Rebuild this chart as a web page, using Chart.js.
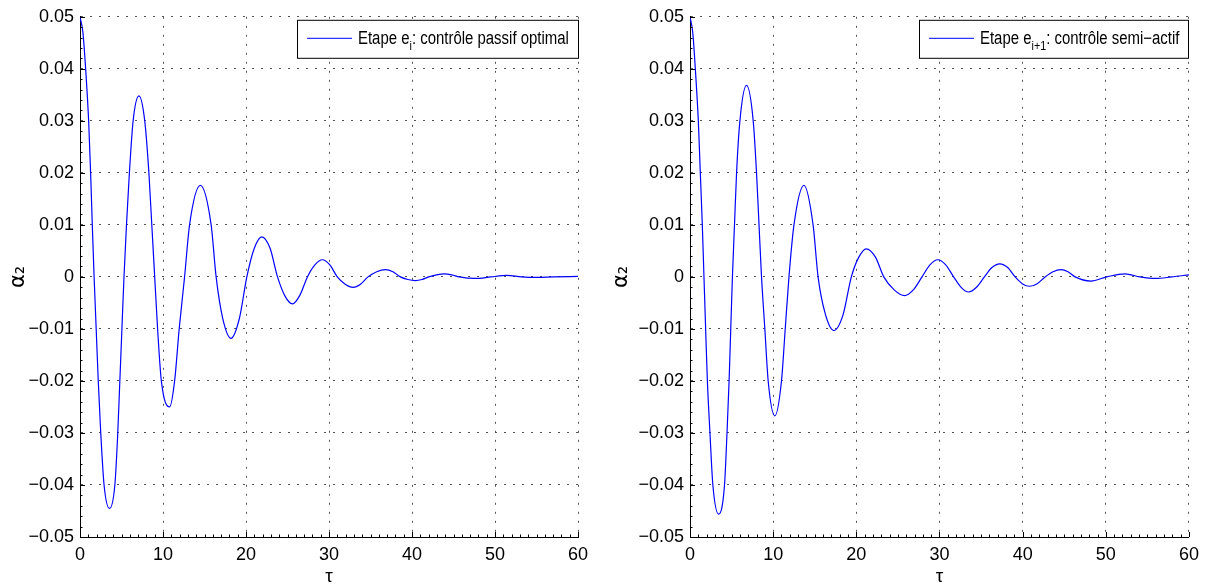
<!DOCTYPE html>
<html>
<head>
<meta charset="utf-8">
<script src="https://cdn.jsdelivr.net/npm/chart.js@4"></script>
<style>
  body { margin: 0; background: #fff; }
  .panel { position: absolute; top: 0; width: 603px; height: 586px; }
</style>
</head>
<body>
<div class="panel" style="left:0"><canvas id="chartPassif" width="603" height="586"></canvas></div>
<div class="panel" style="left:603px"><canvas id="chartSemi" width="603" height="586"></canvas></div>
<script>
// étape e_i : contrôle passif optimal
var tauPassif = [0, 0.35, 0.68, 1.04, 1.28, 1.48, 1.7, 1.95, 2.2, 2.5, 2.9, 3.55, 4.2, 4.55, 4.8, 5.05, 5.3, 5.6, 5.95, 6.4, 7.1,
  7.8, 8.3, 8.65, 9.0, 9.35, 9.8, 10.8, 11.4, 11.95, 12.6, 13.2, 14.5, 15.8, 16.4, 17.2, 18.2, 19.2, 20.1, 21.0, 21.9,
  22.9, 23.8, 24.7, 25.6, 26.5, 27.4, 28.3, 29.2, 30.1, 31.0, 31.95, 32.9, 33.8, 34.7, 35.75, 36.8, 37.7, 38.6, 39.5, 40.4,
  41.2, 42.0, 42.95, 43.9, 44.8, 45.7, 47.6, 49.5, 51.4, 53.2, 55.0, 57.0, 60];
var alphaPassif = [0.05, 0.047, 0.04, 0.03, 0.02, 0.01, 0, -0.01, -0.02, -0.03, -0.04, -0.0445, -0.04, -0.03, -0.02, -0.01, 0, 0.01, 0.02, 0.03, 0.0348,
  0.03, 0.02, 0.01, 0, -0.01, -0.02, -0.025, -0.02, -0.01, 0, 0.01, 0.0176, 0.01, 0, -0.008, -0.0118, -0.008, 0, 0.0055, 0.0077,
  0.0055, 0, -0.0037, -0.0052, -0.0035, 0, 0.0023, 0.0033, 0.0023, 0, -0.0014, -0.002, -0.0014, 0, 0.001, 0.0014, 0.001, 0, -0.0005, -0.0007,
  -0.0005, 0, 0.0004, 0.0006, 0.0004, 0, -0.0003, 0, 0.0003, 0, -0.0001, 0, 0.0001];

// étape e_i+1 : contrôle semi-actif
var tauSemi = [0, 0.33, 0.64, 1.0, 1.24, 1.48, 1.68, 1.88, 2.09, 2.4, 2.75, 3.45, 4.15, 4.45, 4.7, 4.9, 5.1, 5.35, 5.6, 6.0, 6.8,
  7.6, 8.0, 8.3, 8.6, 9.0, 9.4, 10.2, 11.0, 11.45, 11.9, 12.5, 13.7, 14.8, 15.4, 16.3, 17.3, 18.4, 19.4, 20.3, 21.2,
  22.3, 23.3, 24.55, 25.8, 26.85, 27.9, 28.85, 29.8, 30.75, 31.7, 32.6, 33.5, 34.45, 35.4, 36.3, 37.25, 38.2, 39.1, 39.95, 40.8,
  41.75, 42.7, 43.65, 44.6, 45.45, 46.3, 48.2, 50.1, 52.3, 54.1, 56.0, 57.9, 60];
var alphaSemi = [0.05, 0.047, 0.04, 0.03, 0.02, 0.01, 0, -0.01, -0.02, -0.03, -0.04, -0.0456, -0.04, -0.03, -0.02, -0.01, 0, 0.01, 0.02, 0.03, 0.0368,
  0.03, 0.02, 0.01, 0, -0.01, -0.02, -0.0267, -0.02, -0.01, 0, 0.01, 0.0176, 0.01, 0, -0.0073, -0.0103, -0.0073, 0, 0.0038, 0.0054,
  0.0038, 0, -0.0025, -0.0036, -0.0025, 0, 0.0023, 0.0033, 0.0023, 0, -0.002, -0.0029, -0.002, 0, 0.0018, 0.0025, 0.0018, 0, -0.0013, -0.0018,
  -0.0013, 0, 0.001, 0.0014, 0.001, 0, -0.0008, 0, 0.0006, 0, -0.0003, 0, 0.0004];

var xTicks = [0, 10, 20, 30, 40, 50, 60];
var xTickLabels = ['0', '10', '20', '30', '40', '50', '60'];
var yTicks = [-0.05, -0.04, -0.03, -0.02, -0.01, 0, 0.01, 0.02, 0.03, 0.04, 0.05];
var yTickLabels = ['\u22120.05', '\u22120.04', '\u22120.03', '\u22120.02', '\u22120.01', '0', '0.01', '0.02', '0.03', '0.04', '0.05'];

var FONT = '"Liberation Sans Narrow", "Liberation Sans", Arial, sans-serif';
Chart.defaults.font.family = FONT;
Chart.defaults.font.size = 18;
Chart.defaults.color = '#000';

// small inward ticks on the two axes, like the matlab look
var axisMarks = {
  id: 'axisMarks',
  afterDraw: function (chart) {
    var ctx = chart.ctx, xs = chart.scales.x, ys = chart.scales.y, a = chart.chartArea;
    ctx.save();
    ctx.strokeStyle = '#000';
    ctx.lineWidth = 1;
    ctx.beginPath();
    for (var v = 0; v <= 60; v++) {
      var px = Math.round(xs.getPixelForValue(v)) + 0.5;
      var len = v % 10 === 0 ? 5 : 2.5;
      ctx.moveTo(px, a.bottom);
      ctx.lineTo(px, a.bottom - len);
    }
    for (var k = -25; k <= 25; k++) {
      var py = Math.round(ys.getPixelForValue(k * 0.002)) + 0.5;
      var l = k % 5 === 0 ? 5 : 2.5;
      ctx.moveTo(a.left, py);
      ctx.lineTo(a.left + l, py);
    }
    ctx.stroke();
    ctx.restore();
  }
};

// boxed legend in the top right corner, label with a subscript, squeezed a bit
var curveLegend = {
  id: 'curveLegend',
  afterDraw: function (chart, args, opts) {
    var ctx = chart.ctx, a = chart.chartArea, sq = 0.83;
    ctx.save();
    ctx.font = '18px ' + FONT;
    var w1 = ctx.measureText(opts.head).width * sq;
    var w3 = ctx.measureText(opts.tail).width * sq;
    ctx.font = '13px ' + FONT;
    var w2 = ctx.measureText(opts.sub).width * sq;
    var boxW = Math.round(10 + 45 + 6 + w1 + w2 + w3 + 9);
    var right = a.right - opts.inset;
    var left = right - boxW;
    var top = a.top + 3;
    var h = 38;
    ctx.fillStyle = '#fff';
    ctx.fillRect(left, top, boxW, h);
    ctx.strokeStyle = '#000';
    ctx.lineWidth = 1;
    ctx.strokeRect(Math.round(left) + 0.5, top + 0.5, boxW, h);
    ctx.strokeStyle = opts.color;
    ctx.beginPath();
    ctx.moveTo(left + 10, top + 18.5);
    ctx.lineTo(left + 55, top + 18.5);
    ctx.stroke();
    ctx.fillStyle = '#000';
    ctx.textBaseline = 'alphabetic';
    var parts = [[opts.head, 18, 24, w1], [opts.sub, 13, 30, w2], [opts.tail, 18, 24, w3]];
    var tx = left + 61;
    parts.forEach(function (p) {
      ctx.save();
      ctx.translate(tx, top + p[2]);
      ctx.scale(sq, 1);
      ctx.font = p[1] + 'px ' + FONT;
      ctx.fillText(p[0], 0, 0);
      ctx.restore();
      tx += p[3];
    });
    ctx.restore();
  }
};

function drawPanel(id, tau, alpha, axisWidth, padRight, legend) {
  var points = tau.map(function (t, i) { return { x: t, y: alpha[i] }; });
  return new Chart(document.getElementById(id), {
    type: 'line',
    data: {
      datasets: [{
        data: points,
        borderColor: '#0000ff',
        borderWidth: 1.2,
        pointRadius: 0,
        fill: false,
        cubicInterpolationMode: 'monotone'
      }]
    },
    options: {
      responsive: false,
      animation: false,
      layout: { padding: { top: 14, right: padRight, left: 0, bottom: 0 } },
      plugins: {
        legend: { display: false },
        tooltip: { enabled: false },
        curveLegend: legend
      },
      scales: {
        x: {
          type: 'linear',
          min: 0,
          max: 60,
          afterBuildTicks: function (s) { s.ticks = xTicks.map(function (v) { return { value: v }; }); },
          afterFit: function (s) { s.height = 49; },
          ticks: {
            padding: 7,
            maxRotation: 0,
            autoSkip: false,
            callback: function (v, i) { return xTickLabels[i]; }
          },
          grid: { color: '#555', lineWidth: 1, drawTicks: false },
          border: { display: true, color: '#000', width: 1, dash: [2, 7] },
          title: { display: true, text: '\u03c4', font: { size: 19, lineHeight: 1 }, padding: { top: 0, bottom: 0 } }
        },
        y: {
          type: 'linear',
          min: -0.05,
          max: 0.05,
          afterBuildTicks: function (s) { s.ticks = yTicks.map(function (v) { return { value: v }; }); },
          afterFit: function (s) { s.width = axisWidth; },
          ticks: {
            padding: 6,
            autoSkip: false,
            callback: function (v, i) { return yTickLabels[i]; }
          },
          grid: { color: '#555', lineWidth: 1, drawTicks: false },
          border: { display: true, color: '#000', width: 1, dash: [2, 7] },
          title: { display: true, text: '\u03b1\u2082', font: { family: '"DejaVu Sans", sans-serif', size: 21, lineHeight: 1 }, padding: { top: 8, bottom: 0 } }
        }
      }
    },
    plugins: [axisMarks, curveLegend]
  });
}

drawPanel('chartPassif', tauPassif, alphaPassif, 80, 25,
  { head: 'Etape e', sub: 'i', tail: ': contr\u00f4le passif optimal', color: '#0000ff', inset: 0 });
drawPanel('chartSemi', tauSemi, alphaSemi, 87, 16,
  { head: 'Etape e', sub: 'i+1', tail: ': contr\u00f4le semi\u2212actif', color: '#0000ff', inset: 1 });
</script>
</body>
</html>
